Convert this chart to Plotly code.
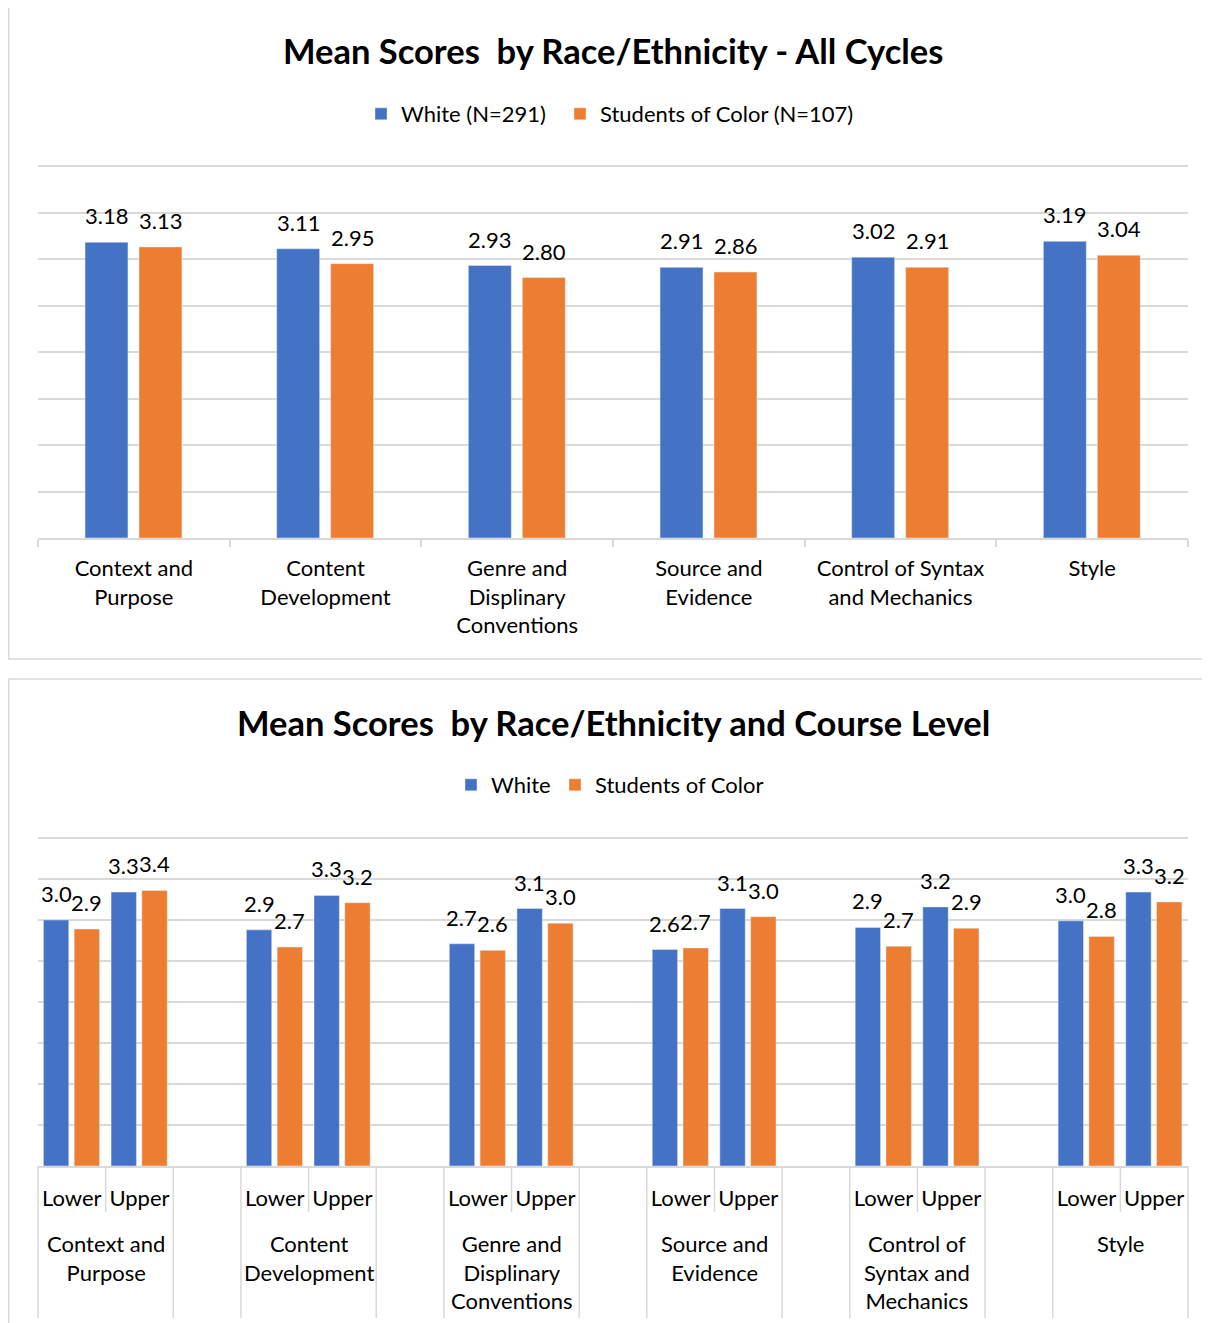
import plotly.graph_objects as go

# the page body has an 8px margin, so the figure is a bit smaller than the window
W, H = 1210, 1323
OFF = 8
FW, FH = W - OFF, H - OFF

# categories / labels
top_labels = ["Context and<br>Purpose", "Content<br>Development", "Genre and<br>Displinary<br>Conventions",
              "Source and<br>Evidence", "Control of Syntax<br>and Mechanics", "Style"]
bottom_labels = ["Context and<br>Purpose", "Content<br>Development", "Genre and<br>Displinary<br>Conventions",
                 "Source and<br>Evidence", "Control of<br>Syntax and<br>Mechanics", "Style"]
levels = ["Lower", "Upper"]

# all cycles
white_all = [3.18, 3.11, 2.93, 2.91, 3.02, 3.19]
soc_all = [3.13, 2.95, 2.80, 2.86, 2.91, 3.04]

# by course level
white_lower = [3.00, 2.88, 2.71, 2.64, 2.91, 2.99]
white_upper = [3.34, 3.30, 3.14, 3.14, 3.16, 3.34]
soc_lower = [2.89, 2.67, 2.63, 2.66, 2.68, 2.80]
soc_upper = [3.36, 3.21, 2.96, 3.04, 2.90, 3.22]

BLUE = "#4472C4"
ORANGE = "#ED7D31"
GRID = "#d9d9d9"
FONT = "Lato"
YMAX = 4.03  # a bit above 4 so the top gridline is kept


def px(x):
    return (x - OFF) / FW


def py(y):
    return 1 - (y - OFF) / FH


# slots for the lower chart, with an empty slot between criteria
slots = []
for g in range(len(bottom_labels)):
    slots += [f"{g}|{lvl}" for lvl in levels]
    if g < len(bottom_labels) - 1:
        slots.append(f"{g}|gap")
bar_keys = [f"{g}|{lvl}" for g in range(len(bottom_labels)) for lvl in levels]
white_lvl = [v for pair in zip(white_lower, white_upper) for v in pair]
soc_lvl = [v for pair in zip(soc_lower, soc_upper) for v in pair]

fig = go.Figure()

# top chart
top_w, top_off = 0.224, (-0.2546, 0.027)
fig.add_trace(go.Bar(x=top_labels, y=white_all, name="White (N=291)", marker_color=BLUE,
                     width=top_w, offset=top_off[0], xaxis="x", yaxis="y", legend="legend"))
fig.add_trace(go.Bar(x=top_labels, y=soc_all, name="Students of Color (N=107)", marker_color=ORANGE,
                     width=top_w, offset=top_off[1], xaxis="x", yaxis="y", legend="legend3"))

# bottom chart
bot_w, bot_off = 0.375, (-0.42, 0.035)
fig.add_trace(go.Bar(x=bar_keys, y=white_lvl, name="White", marker_color=BLUE,
                     width=bot_w, offset=bot_off[0], xaxis="x2", yaxis="y2", legend="legend2"))
fig.add_trace(go.Bar(x=bar_keys, y=soc_lvl, name="Students of Color", marker_color=ORANGE,
                     width=bot_w, offset=bot_off[1], xaxis="x2", yaxis="y2", legend="legend4"))

annotations = []
# value labels
for i, (w, s) in enumerate(zip(white_all, soc_all)):
    for v, off in ((w, top_off[0]), (s, top_off[1])):
        annotations.append(dict(x=i + off + top_w / 2, y=v, xref="x", yref="y", text=f"{v:.2f}",
                                showarrow=False, yanchor="bottom", yshift=11, font=dict(size=22)))
for k, w, s in zip(bar_keys, white_lvl, soc_lvl):
    i = slots.index(k)
    for v, off in ((w, bot_off[0]), (s, bot_off[1])):
        annotations.append(dict(x=i + off + bot_w / 2, y=v, xref="x2", yref="y2", text=f"{v:.1f}",
                                showarrow=False, yanchor="bottom", yshift=11, font=dict(size=22)))

# group labels of the lower chart
for g, lab in enumerate(bottom_labels):
    i = slots.index(f"{g}|Lower")
    annotations.append(dict(x=i + 0.5, y=py(1228), xref="x2", yref="paper", text=lab,
                            showarrow=False, yanchor="top", font=dict(size=22)))

# titles
annotations.append(dict(x=px(613), y=py(50), xref="paper", yref="paper", showarrow=False, yanchor="middle",
                        text="<b>Mean Scores\u00a0 by Race/Ethnicity - All Cycles</b>", font=dict(size=34.5)))
annotations.append(dict(x=px(613), y=py(722), xref="paper", yref="paper", showarrow=False, yanchor="middle",
                        text="<b>Mean Scores\u00a0 by Race/Ethnicity and Course Level</b>", font=dict(size=34.5)))

shapes = []
# panel borders
for y0, y1 in ((7, 659), (679, 1335)):
    shapes.append(dict(type="rect", xref="paper", yref="paper", x0=px(8.75), x1=px(1220), y0=py(y1), y1=py(y0),
                       line=dict(color=GRID, width=1.5), layer="below"))
# divider lines under the lower chart
n = len(slots)
for k in range(n + 1):
    left = slots[k - 1] if k > 0 else None
    right = slots[k] if k < n else None
    long_line = left is None or right is None or left.endswith("gap") or right.endswith("gap")
    shapes.append(dict(type="line", xref="x2 domain", yref="paper", x0=k / n, x1=k / n,
                       y0=py(1166), y1=py(1318 if long_line else 1212),
                       line=dict(color=GRID, width=1.5)))

yax = dict(range=[0, YMAX], dtick=0.5, showticklabels=False, showgrid=True, gridcolor=GRID, gridwidth=1.5,
           zeroline=False, fixedrange=True)


def leg(x, y):
    return dict(orientation="h", x=px(x), xanchor="left", y=py(y), yanchor="middle",
                font=dict(size=22), bgcolor="rgba(0,0,0,0)")


fig.update_layout(
    width=FW, height=FH, margin=dict(l=0, r=0, t=0, b=0),
    paper_bgcolor="white", plot_bgcolor="white",
    font=dict(family=FONT, color="black", size=22),
    xaxis=dict(domain=[px(38), px(1188)], anchor="y", type="category", categoryorder="array",
               categoryarray=top_labels, showline=True, linecolor=GRID, linewidth=1.5,
               ticks="outside", tickson="boundaries", ticklen=7, tickcolor=GRID, tickwidth=1.5,
               ticklabelstandoff=10, showgrid=False, tickfont=dict(size=22), fixedrange=True),
    yaxis=dict(domain=[py(538), py(166 - 0.03 * 93)], anchor="x", **yax),
    xaxis2=dict(domain=[px(38), px(1188)], anchor="y2", type="category", categoryorder="array",
                categoryarray=slots, range=[-0.5, n - 0.5], showline=True, linecolor=GRID, linewidth=1.5,
                ticks="", tickmode="array", tickvals=bar_keys, ticktext=[lv for _ in bottom_labels for lv in levels],
                ticklabelstandoff=12, showgrid=False, tickfont=dict(size=22), fixedrange=True),
    yaxis2=dict(domain=[py(1166), py(838 - 0.03 * 82)], anchor="x2", **yax),
    legend=leg(361, 114),
    legend3=leg(560, 114),
    legend2=leg(451, 785),
    legend4=leg(555, 785),
    annotations=annotations,
    shapes=shapes,
    showlegend=True,
)

fig.write_html("out.html")
